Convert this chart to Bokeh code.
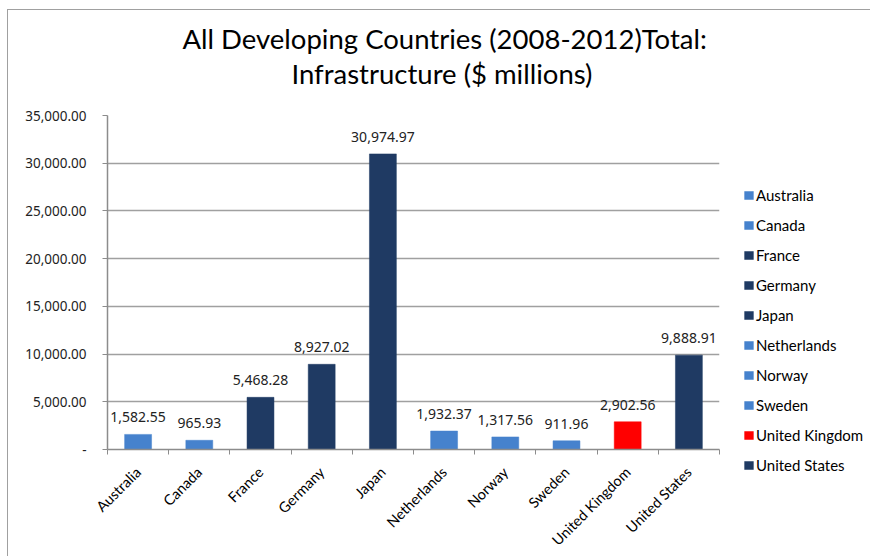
from bokeh.plotting import figure
from bokeh.models import (ColumnDataSource, FixedTicker, CustomJSTickFormatter,
                          LabelSet, Legend, LegendItem, Range1d, Title)
from bokeh.core.properties import value
from bokeh.embed import file_html
from bokeh.resources import INLINE

countries = ["Australia", "Canada", "France", "Germany", "Japan",
             "Netherlands", "Norway", "Sweden", "United Kingdom", "United States"]
values = [1582.55, 965.93, 5468.28, 8927.02, 30974.97,
          1932.37, 1317.56, 911.96, 2902.56, 9888.91]
LIGHT = "#4682CD"
DARK = "#1F3A63"
RED = "#FF0000"
colors = [LIGHT, LIGHT, DARK, DARK, DARK, LIGHT, LIGHT, LIGHT, RED, DARK]
y_ticks = [0, 5000, 10000, 15000, 20000, 25000, 30000, 35000]
title_lines = ["All Developing Countries (2008-2012)Total:", "Infrastructure ($ millions)"]

xs = [i + 0.5 for i in range(len(countries))]
src = ColumnDataSource(dict(
    x=xs, value=values, country=countries, color=colors,
    label=[f"{v:,.2f}" for v in values],
))

NARROW = "Lato"
SANS = "Noto Sans"
p = figure(frame_width=612, frame_height=334, output_backend="svg", toolbar_location=None,
           x_range=Range1d(0, len(countries)), y_range=Range1d(0, 35000),
           min_border_left=99, min_border_top=105, min_border_right=151,
           min_border_bottom=97, margin=(9, 0, 0, 7),
           styles={"border-top": "1px solid #A0A0A0", "border-left": "1px solid #A0A0A0"})
p.title = None

t2 = Title(text=title_lines[1], align="left", text_font=NARROW, text_font_size="27.5px",
           text_font_style="normal", text_color="#000000", offset=184, standoff=51)
t1 = Title(text=title_lines[0], align="left", text_font=NARROW, text_font_size="27.5px",
           text_font_style="normal", text_color="#000000", offset=75, standoff=-50)
p.add_layout(t2, "above")
p.add_layout(t1, "above")

r = p.vbar(x="x", top="value", width=0.44, source=src, fill_color="color",
           line_color="color", line_width=0.5)

p.add_layout(LabelSet(x="x", y="value", text="label", source=src, text_align="center",
                      text_baseline="alphabetic", y_offset=12, text_font=value(SANS),
                      text_font_size=value("14px"), text_color="#222222"))

p.outline_line_color = None
p.xgrid.visible = False
p.ygrid.grid_line_color = "#A0A0A0"
p.ygrid.grid_line_width = 1.5
p.ygrid.ticker = FixedTicker(ticks=y_ticks)

p.yaxis.ticker = FixedTicker(ticks=y_ticks)
p.yaxis.formatter = CustomJSTickFormatter(code="""
    if (tick == 0) { return '-'; }
    return tick.toLocaleString('en-US', {minimumFractionDigits: 2, maximumFractionDigits: 2});
""")
p.yaxis.axis_line_color = "#8C8C8C"
p.yaxis.axis_line_width = 1.5
p.yaxis.major_tick_line_color = "#8C8C8C"
p.yaxis.major_tick_out = 5
p.yaxis.major_tick_in = 0
p.yaxis.minor_tick_line_color = None
p.yaxis.major_label_text_font = SANS
p.yaxis.major_label_text_font_size = "13.5px"
p.yaxis.major_label_text_color = "#222222"
p.yaxis.major_label_standoff = 16

p.xaxis.ticker = FixedTicker(ticks=xs, minor_ticks=list(range(len(countries) + 1)))
p.xaxis.formatter = CustomJSTickFormatter(args=dict(names=countries),
                                          code="return names[Math.floor(tick)];")
p.xaxis.major_label_orientation = 0.785398
p.xaxis.axis_line_color = "#8C8C8C"
p.xaxis.axis_line_width = 1.5
p.xaxis.major_tick_line_color = None
p.xaxis.minor_tick_line_color = "#8C8C8C"
p.xaxis.minor_tick_out = 5
p.xaxis.minor_tick_in = 0
p.xaxis.major_label_text_font = NARROW
p.xaxis.major_label_text_font_size = "14.5px"
p.xaxis.major_label_text_color = "#000000"
p.xaxis.major_label_standoff = 14

items = [LegendItem(label=c, renderers=[r], index=i) for i, c in enumerate(countries)]
legend = Legend(items=items, location=(24, -26), orientation="vertical",
                glyph_width=11, glyph_height=10, label_height=20, spacing=10,
                label_standoff=2, padding=0, margin=0, border_line_color=None,
                background_fill_alpha=0, label_text_font=NARROW,
                label_text_font_size="15px", label_text_color="#000000")
p.add_layout(legend, "right")

open("out.html", "w").write(file_html(p, INLINE))
